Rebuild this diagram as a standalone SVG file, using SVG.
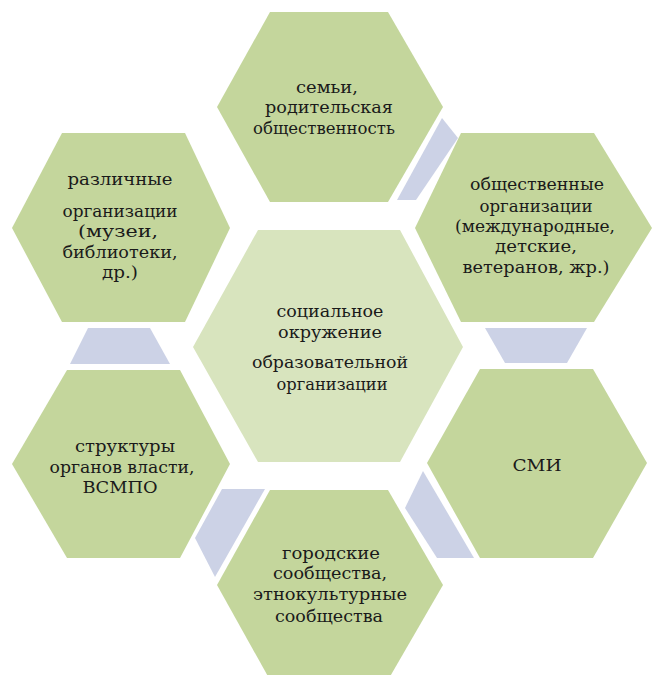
<svg xmlns="http://www.w3.org/2000/svg" width="654" height="675" viewBox="0 0 654 675">
<style>
.hex{fill:#c4d69c;}
.hexc{fill:#d8e4be;}
.con{fill:#ccd2e6;}
.t{font-family:"DejaVu Serif",serif;font-size:17px;fill:#1a1a1a;text-anchor:middle;}
</style>
<rect width="654" height="675" fill="#ffffff"/>
<g id="connectors">
<polygon class="con" points="442,118 458,138 416,200 397,200"/>
<polygon class="con" points="485,328 587,328 567,363 505,363"/>
<polygon class="con" points="423,471 405,508 437,558 474,558"/>
<polygon class="con" points="222,489 265,489 215,577 195,538"/>
<polygon class="con" points="88,328 150,328 170,364 70,364"/>
</g>
<g id="node-center">
<polygon class="hexc" points="193,347 258,230 400,230 463,347 400,462 258,462"/>
<text class="t" x="330" y="317" textLength="107" lengthAdjust="spacingAndGlyphs">социальное</text>
<text class="t" x="330" y="338" textLength="104" lengthAdjust="spacingAndGlyphs">окружение</text>
<text class="t" x="330" y="368" textLength="156" lengthAdjust="spacingAndGlyphs">образовательной</text>
<text class="t" x="332" y="390" textLength="111" lengthAdjust="spacingAndGlyphs">организации</text>
</g>
<g id="node-top">
<polygon class="hex" points="217,107 270,12 388,12 443,107 388,202 270,202"/>
<text class="t" x="327" y="93" textLength="62" lengthAdjust="spacingAndGlyphs">семьи,</text>
<text class="t" x="329" y="113" textLength="128" lengthAdjust="spacingAndGlyphs">родительская</text>
<text class="t" x="324" y="134" textLength="142" lengthAdjust="spacingAndGlyphs">общественность</text>
</g>
<g id="node-top-right">
<polygon class="hex" points="415,228 461,133 594,133 652,228 594,322 461,322"/>
<text class="t" x="537" y="190" textLength="134" lengthAdjust="spacingAndGlyphs">общественные</text>
<text class="t" x="536" y="212" textLength="113" lengthAdjust="spacingAndGlyphs">организации</text>
<text class="t" x="535" y="232" textLength="160" lengthAdjust="spacingAndGlyphs">(международные,</text>
<text class="t" x="536" y="252" textLength="82" lengthAdjust="spacingAndGlyphs">детские,</text>
<text class="t" x="536" y="273" textLength="147" lengthAdjust="spacingAndGlyphs">ветеранов, жр.)</text>
</g>
<g id="node-right">
<polygon class="hex" points="427,463 480,369 593,369 647,463 593,558 480,558"/>
<text class="t" x="537" y="471" textLength="49" lengthAdjust="spacingAndGlyphs">СМИ</text>
</g>
<g id="node-bottom">
<polygon class="hex" points="217,585 270,490 388,490 443,585 388,680 270,680"/>
<text class="t" x="331" y="559" textLength="98" lengthAdjust="spacingAndGlyphs">городские</text>
<text class="t" x="330" y="579" textLength="114" lengthAdjust="spacingAndGlyphs">сообщества,</text>
<text class="t" x="330" y="600" textLength="154" lengthAdjust="spacingAndGlyphs">этнокультурные</text>
<text class="t" x="329" y="622" textLength="108" lengthAdjust="spacingAndGlyphs">сообщества</text>
</g>
<g id="node-bottom-left">
<polygon class="hex" points="12,464 67,370 180,370 230,464 180,558 67,558"/>
<text class="t" x="125" y="452" textLength="100" lengthAdjust="spacingAndGlyphs">структуры</text>
<text class="t" x="122" y="473" textLength="145" lengthAdjust="spacingAndGlyphs">органов власти,</text>
<text class="t" x="120" y="493" textLength="75" lengthAdjust="spacingAndGlyphs">ВСМПО</text>
</g>
<g id="node-top-left">
<polygon class="hex" points="12,228 62,133 185,133 230,228 185,322 62,322"/>
<text class="t" x="120" y="185" textLength="105" lengthAdjust="spacingAndGlyphs">различные</text>
<text class="t" x="120" y="217" textLength="115" lengthAdjust="spacingAndGlyphs">организации</text>
<text class="t" x="118" y="237" textLength="80" lengthAdjust="spacingAndGlyphs">(музеи,</text>
<text class="t" x="120" y="258" textLength="115" lengthAdjust="spacingAndGlyphs">библиотеки,</text>
<text class="t" x="120" y="278" textLength="36" lengthAdjust="spacingAndGlyphs">др.)</text>
</g>
</svg>
